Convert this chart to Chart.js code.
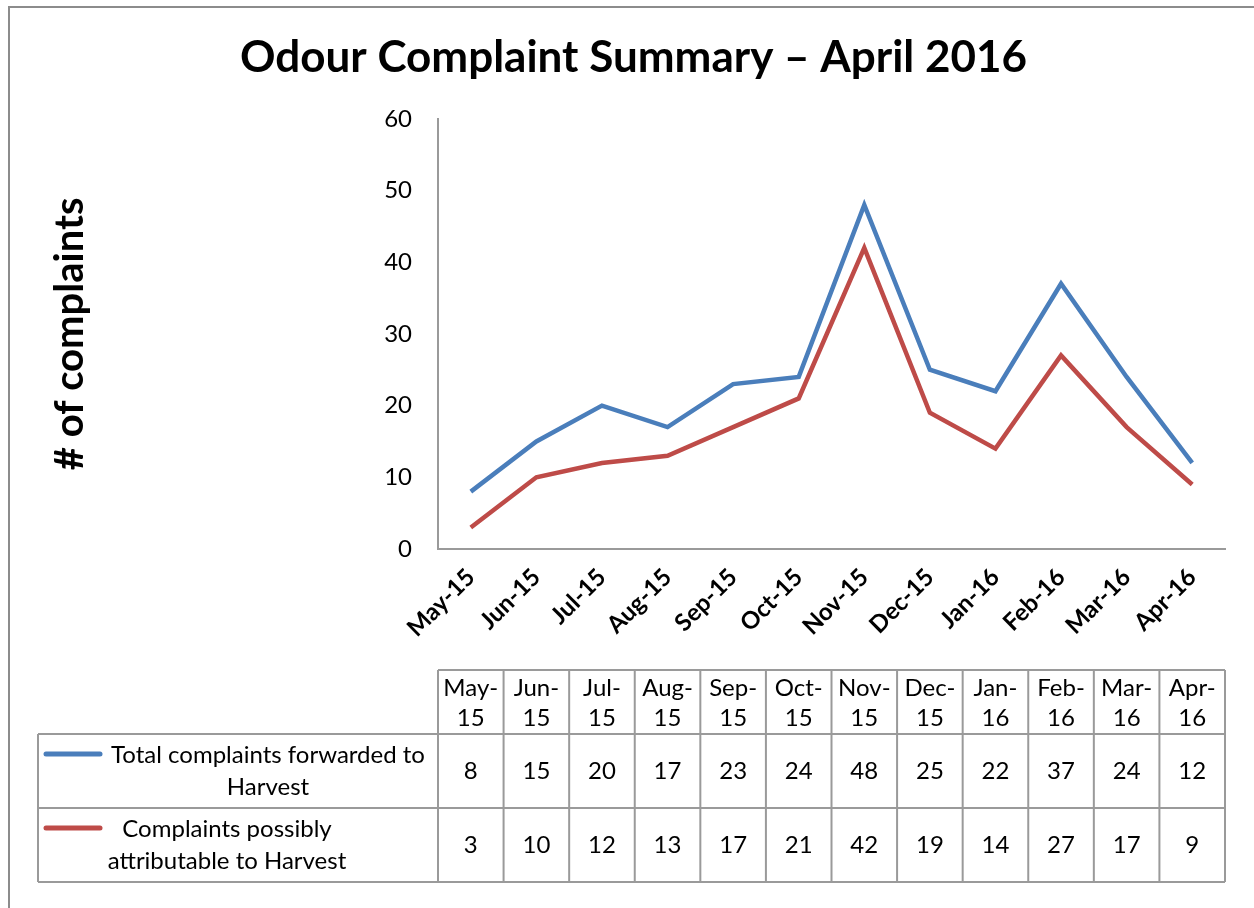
<!DOCTYPE html>
<html lang="en">
<head>
  <meta charset="UTF-8" />
  <title>Odour Complaint Summary – April 2016</title>
  <script src="https://cdn.jsdelivr.net/npm/chart.js"></script>
  <style>
    html, body { margin: 0; padding: 0; background: #fff; }
    #wrap { position: relative; width: 1254px; height: 908px; }
    #frame { position: absolute; left: 8px; top: 6px; width: 1260px; height: 920px; border: 2px solid #8c8c8c; box-sizing: border-box; }
    canvas { position: absolute; left: 0; top: 0; }
  </style>
</head>
<body>
  <div id="wrap">
    <div id="frame"></div>
    <canvas id="chart" width="1254" height="908"></canvas>
  </div>

  <script>
    const months = ["May-15", "Jun-15", "Jul-15", "Aug-15", "Sep-15", "Oct-15", "Nov-15", "Dec-15", "Jan-16", "Feb-16", "Mar-16", "Apr-16"];
    const totalForwarded = [8, 15, 20, 17, 23, 24, 48, 25, 22, 37, 24, 12];
    const possiblyAttributable = [3, 10, 12, 13, 17, 21, 42, 19, 14, 27, 17, 9];
    const seriesNames = [
      ["Total complaints forwarded to", "Harvest"],
      ["Complaints possibly", "attributable to Harvest"]
    ];
    const yTicks = [0, 10, 20, 30, 40, 50, 60];

    const FONT = "Lato, 'Open Sans', sans-serif";
    const BLUE = "#4a7ebb";
    const RED = "#be4b48";
    const GRID = "#9a9a9a";

    // data table under the chart, lined up with the x scale
    const dataTable = {
      id: "dataTable",
      afterDraw(chart) {
        const ctx = chart.ctx;
        const x = chart.scales.x;
        const step = x.getPixelForValue(1) - x.getPixelForValue(0);
        const left = x.getPixelForValue(0) - step / 2;
        const right = left + step * months.length;
        const legendLeft = 38;
        const rows = [670, 734, 808, 882];

        ctx.save();
        ctx.strokeStyle = GRID;
        ctx.lineWidth = 2;
        ctx.beginPath();
        ctx.moveTo(left, rows[0]); ctx.lineTo(right, rows[0]);
        for (let r = 1; r < rows.length; r++) {
          ctx.moveTo(legendLeft, rows[r]); ctx.lineTo(right, rows[r]);
        }
        ctx.moveTo(legendLeft, rows[1]); ctx.lineTo(legendLeft, rows[3]);
        for (let i = 0; i <= months.length; i++) {
          const cx = left + step * i;
          ctx.moveTo(cx, rows[0]); ctx.lineTo(cx, rows[3]);
        }
        ctx.stroke();

        ctx.fillStyle = "#000";
        ctx.font = "24px " + FONT;
        ctx.textAlign = "center";
        ctx.textBaseline = "middle";
        months.forEach((m, i) => {
          const cx = x.getPixelForValue(i);
          const [a, b] = m.split("-");
          ctx.fillText(a + "-", cx, 688);
          ctx.fillText(b, cx, 718);
          ctx.fillText(String(totalForwarded[i]), cx, 771);
          ctx.fillText(String(possiblyAttributable[i]), cx, 845);
        });

        // legend keys + series names
        ctx.lineCap = "round";
        ctx.lineWidth = 5;
        ctx.strokeStyle = BLUE;
        ctx.beginPath(); ctx.moveTo(46, 754); ctx.lineTo(100, 754); ctx.stroke();
        ctx.strokeStyle = RED;
        ctx.beginPath(); ctx.moveTo(46, 828); ctx.lineTo(100, 828); ctx.stroke();

        ctx.fillText(seriesNames[0][0], 268, 755);
        ctx.fillText(seriesNames[0][1], 268, 787);
        ctx.fillText(seriesNames[1][0], 227, 829);
        ctx.fillText(seriesNames[1][1], 227, 861);
        ctx.restore();
      }
    };

    new Chart(document.getElementById("chart"), {
      type: "line",
      data: {
        labels: months,
        datasets: [
          { label: seriesNames[0].join(" "), data: totalForwarded, borderColor: BLUE, backgroundColor: BLUE, borderWidth: 4.5, pointRadius: 0, tension: 0 },
          { label: seriesNames[1].join(" "), data: possiblyAttributable, borderColor: RED, backgroundColor: RED, borderWidth: 4.5, pointRadius: 0, tension: 0 }
        ]
      },
      options: {
        responsive: false,
        animation: false,
        layout: { padding: { left: 42, right: 29, top: 0, bottom: 0 } },
        plugins: {
          legend: { display: false },
          tooltip: { enabled: false },
          title: {
            display: true,
            text: "Odour Complaint Summary – April 2016",
            color: "#000",
            font: { family: FONT, size: 44, weight: "bold" },
            padding: { top: 31, bottom: 35 }
          }
        },
        scales: {
          x: {
            offset: true,
            grid: { display: false, drawTicks: false },
            border: { display: true, color: GRID, width: 2 },
            ticks: {
              color: "#000",
              font: { family: FONT, size: 24, weight: "bold" },
              minRotation: 45,
              maxRotation: 45,
              padding: 14,
              autoSkip: false
            },
            afterFit: s => { s.height = 359; }
          },
          y: {
            min: 0,
            max: 60,
            afterBuildTicks: s => { s.ticks = yTicks.map(v => ({ value: v })); },
            grid: { display: false, drawTicks: false },
            border: { display: true, color: GRID, width: 2 },
            ticks: {
              color: "#000",
              font: { family: FONT, size: 24 },
              padding: 26
            },
            title: {
              display: true,
              text: "# of complaints",
              color: "#000",
              font: { family: FONT, size: 40, weight: "bold" }
            },
            afterFit: s => { s.width = 396; }
          }
        }
      },
      plugins: [dataTable]
    });
  </script>
</body>
</html>
